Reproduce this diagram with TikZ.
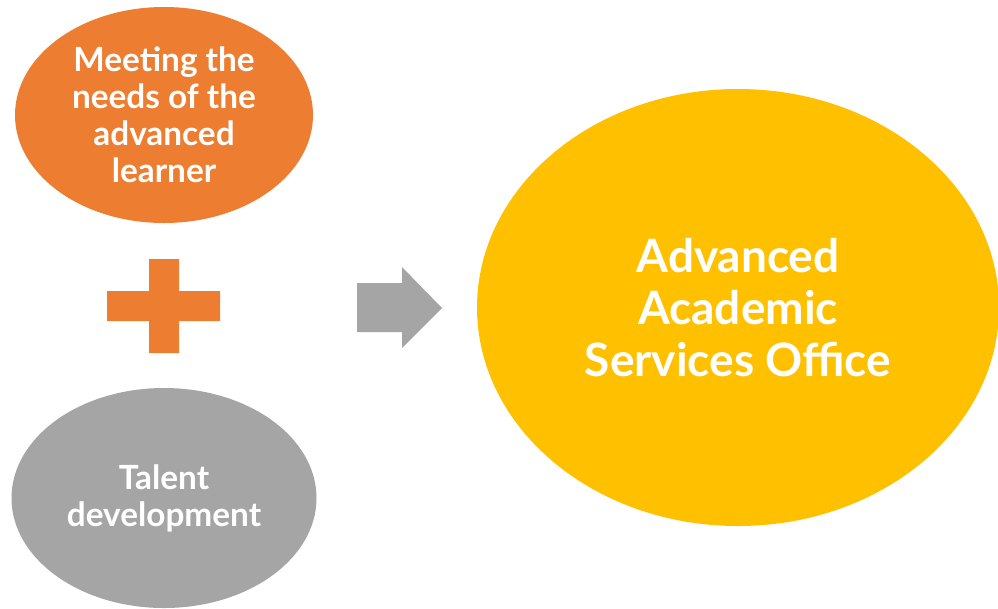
\documentclass[tikz,border=0pt]{standalone}
\usepackage{fontspec}
\setmainfont{Lato}
\usetikzlibrary{shapes.geometric}

\definecolor{orangeA}{RGB}{237,125,49}
\definecolor{greyA}{RGB}{165,165,165}
\definecolor{goldA}{RGB}{255,192,0}

\tikzset{every picture/.style={line width=0.75pt}}
\tikzset{
  blob/.style={ellipse, inner sep=0pt, draw=none, text=white, align=center, font=\bfseries},
  smalltext/.style={font=\bfseries\fontsize{25}{27.75}\selectfont},
  bigtext/.style={font=\bfseries\fontsize{34.5}{39}\selectfont}
}

\begin{document}
\begin{tikzpicture}[x=0.75pt,y=0.75pt,yscale=-1,xscale=1]
\useasboundingbox (0,0) rectangle (998,608);

%Shape: Ellipse [id:orange]
\node [blob, smalltext, fill=orangeA, minimum width=223.5pt, minimum height=162pt] (needs) at (164,115) {Meeting the\\needs of the\\advanced\\learner};
%Shape: Ellipse [id:grey]
\node [blob, smalltext, fill=greyA, minimum width=228.75pt, minimum height=165pt] (talent) at (164,498) {Talent\\development};
%Shape: Ellipse [id:gold]
\node [blob, bigtext, fill=goldA, minimum width=391.5pt, minimum height=327.75pt] (office) at (738,307.5) {Advanced\\Academic\\Services Office};

%Shape: Plus
\fill [orangeA] (149,259) -- (179,259) -- (179,291) -- (220,291) -- (220,321) -- (179,321) -- (179,353) -- (149,353) -- (149,321) -- (107,321) -- (107,291) -- (149,291) -- cycle ;
%Shape: Right Arrow
\fill [greyA] (357,283) -- (402,283) -- (402,267) -- (442,308) -- (402,348) -- (402,332) -- (357,332) -- cycle ;

\end{tikzpicture}
\end{document}
